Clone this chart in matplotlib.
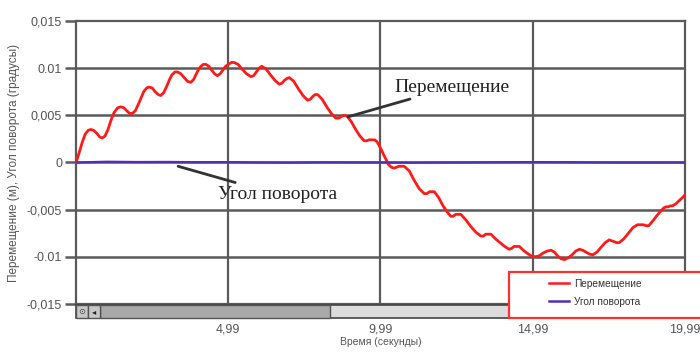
import matplotlib.pyplot as plt
from matplotlib.patches import Rectangle

# time (s) and displacement (m)
t_disp = [0.0, 0.1, 0.2, 0.3, 0.4, 0.48, 0.58, 0.68, 0.78, 0.86, 0.95, 1.05, 1.15, 1.25, 1.37,
          1.47, 1.57, 1.66, 1.76, 1.85, 1.95, 2.05, 2.14, 2.22, 2.32, 2.4, 2.5, 2.6, 2.7, 2.78,
          2.88, 2.98, 3.07, 3.15, 3.25, 3.33, 3.44, 3.55, 3.66, 3.77, 3.86, 3.95, 4.03, 4.1,
          4.18, 4.26, 4.36, 4.45, 4.55, 4.64, 4.73, 4.82, 4.91, 5.0, 5.1, 5.19, 5.32, 5.45,
          5.6, 5.74, 5.83, 5.92, 6.01, 6.1, 6.24, 6.38, 6.53, 6.67, 6.76, 6.84, 6.92, 7.0,
          7.15, 7.3, 7.45, 7.6, 7.69, 7.77, 7.85, 7.93, 8.08, 8.23, 8.38, 8.53, 8.63, 8.72,
          8.81, 8.9, 9.04, 9.18, 9.32, 9.46, 9.54, 9.62, 9.71, 9.8, 9.88, 9.95, 10.03, 10.1,
          10.18, 10.25, 10.35, 10.44, 10.52, 10.6, 10.69, 10.77, 10.94, 11.1, 11.27, 11.43,
          11.52, 11.6, 11.68, 11.76, 11.9, 12.03, 12.17, 12.3, 12.38, 12.46, 12.55, 12.63,
          12.8, 12.96, 13.13, 13.29, 13.37, 13.45, 13.54, 13.62, 13.77, 13.92, 14.07, 14.22,
          14.3, 14.38, 14.47, 14.55, 14.68, 14.8, 14.94, 15.07, 15.2, 15.33, 15.46, 15.59,
          15.7, 15.81, 15.92, 16.03, 16.16, 16.28, 16.4, 16.52, 16.63, 16.74, 16.85, 16.96,
          17.1, 17.23, 17.37, 17.5, 17.58, 17.66, 17.75, 17.83, 17.98, 18.13, 18.28, 18.43,
          18.53, 18.62, 18.71, 18.8, 18.93, 19.05, 19.18, 19.3, 19.37, 19.44, 19.51, 19.58,
          19.68, 19.78, 19.88, 19.97]
disp = [0.0, 0.0010, 0.0021, 0.0030, 0.0034, 0.0035, 0.0034, 0.0031, 0.0027, 0.0026, 0.0028,
        0.0035, 0.0045, 0.0053, 0.0058, 0.0059, 0.0058, 0.0055, 0.0052, 0.0052, 0.0055,
        0.0062, 0.0069, 0.0075, 0.0079, 0.0080, 0.0079, 0.0075, 0.0072, 0.0071, 0.0074,
        0.0081, 0.0088, 0.0093, 0.0096, 0.0096, 0.0094, 0.0090, 0.0086, 0.0085, 0.0088,
        0.0094, 0.0099, 0.0102, 0.0104, 0.0104, 0.0102, 0.0098, 0.0094, 0.0092, 0.0094,
        0.0098, 0.0102, 0.0104, 0.0106, 0.0106, 0.0104, 0.0099, 0.0094, 0.0091, 0.0092,
        0.0096, 0.0100, 0.0102, 0.0099, 0.0093, 0.0087, 0.0083, 0.0084, 0.0087, 0.0089,
        0.0090, 0.0086, 0.0078, 0.0071, 0.0066, 0.0067, 0.0070, 0.0072, 0.0072, 0.0067,
        0.0059, 0.0052, 0.0047, 0.0047, 0.0049, 0.0050, 0.0049, 0.0043, 0.0035, 0.0028,
        0.0023, 0.0023, 0.0024, 0.0024, 0.0024, 0.0022, 0.0018, 0.0013, 0.0008, 0.0003,
        -0.0002, -0.0005, -0.0006, -0.0005, -0.0004, -0.0004, -0.0004, -0.0009, -0.0019,
        -0.0028, -0.0033, -0.0033, -0.0031, -0.0031, -0.0031, -0.0037, -0.0045, -0.0052,
        -0.0057, -0.0057, -0.0055, -0.0055, -0.0055, -0.0061, -0.0068, -0.0074, -0.0078,
        -0.0078, -0.0076, -0.0076, -0.0076, -0.0081, -0.0085, -0.0089, -0.0092, -0.0091,
        -0.0089, -0.0089, -0.0089, -0.0093, -0.0096, -0.0099, -0.0100, -0.0099, -0.0096,
        -0.0094, -0.0093, -0.0095, -0.0099, -0.0102, -0.0103, -0.0101, -0.0098, -0.0094,
        -0.0092, -0.0093, -0.0095, -0.0097, -0.0098, -0.0095, -0.0090, -0.0085, -0.0082,
        -0.0083, -0.0084, -0.0085, -0.0085, -0.0081, -0.0075, -0.0069, -0.0066, -0.0066,
        -0.0066, -0.0067, -0.0067, -0.0062, -0.0057, -0.0052, -0.0048, -0.0047, -0.0047,
        -0.0046, -0.0046, -0.0044, -0.0041, -0.0038, -0.0035]

# rotation angle (near zero the whole time)
t_ang = [0, 1, 2, 3, 4, 5, 6, 7, 8, 9, 10, 11, 12, 13, 14, 15, 16, 17, 18, 19, 19.99]
angle = [0.0, 0.00008, 0.00005, 0.00006, 0.00003, 0.00004, 0.0, -0.00002, 0.00002, 0.00001,
         0.0, -0.00002, 0.0, 0.00001, 0.00003, 0.00004, 0.00003, 0.00001, 0.0, 0.0, 0.0]

x_ticks = [4.99, 9.99, 14.99, 19.99]
x_ticklabels = ['4,99', '9,99', '14,99', '19,99']
y_ticks = [-0.015, -0.01, -0.005, 0, 0.005, 0.01, 0.015]
y_ticklabels = ['-0,015', '-0.01', '-0,005', '0', '0,005', '0.01', '0,015']

fig = plt.figure(figsize=(7, 3.52), dpi=100)
ax = fig.add_axes([0.1086, 0.1364, 0.8700, 0.8040])

grid_c = '#5a5a5a'
ax.plot(t_disp, disp, color='#ff1a1a', lw=2.0, zorder=3, label='Перемещение',
        solid_joinstyle='round')
ax.plot(t_ang, angle, color='#5030b0', lw=1.6, zorder=4, label='Угол поворота')

ax.set_xlim(0, 19.99)
ax.set_ylim(-0.015, 0.015)
ax.set_xticks(x_ticks)
ax.set_xticklabels(x_ticklabels)
ax.set_yticks(y_ticks)
ax.set_yticklabels(y_ticklabels)

for y in y_ticks[1:-1]:
    ax.axhline(y, color=grid_c, lw=1.8, zorder=1)
for x in x_ticks[:-1]:
    ax.axvline(x, color=grid_c, lw=1.6, zorder=1)

for s in ax.spines.values():
    s.set_color(grid_c)
    s.set_linewidth(1.6)

ax.tick_params(axis='y', length=8, width=1.8, color=grid_c, labelcolor='#555555', labelsize=9, pad=2)
ax.tick_params(axis='x', length=0, labelcolor='#555555', labelsize=9, pad=14)
for lab in ax.get_xticklabels() + ax.get_yticklabels():
    lab.set_fontfamily('Liberation Sans')

ax.set_xlabel('Время (секунды)', fontsize=7.5, color='#555555', labelpad=1, family='Liberation Sans')
ax.set_ylabel('Перемещение (м), Угол поворота (градусы)', fontsize=8.5, color='#555555',
              labelpad=5, family='Liberation Sans')

# callout labels
ax.annotate('Перемещение', xy=(8.93, 0.00484), xytext=(10.45, 0.0080),
            fontsize=14, family='Liberation Serif', color='#222222', va='center', ha='left',
            arrowprops=dict(arrowstyle='-', color='#333333', lw=2, shrinkA=2, shrinkB=0), zorder=5)
ax.annotate('Угол поворота', xy=(3.35, -0.0004), xytext=(4.66, -0.0034),
            fontsize=14, family='Liberation Serif', color='#222222', va='center', ha='left',
            arrowprops=dict(arrowstyle='-', color='#333333', lw=2, shrinkA=2, shrinkB=0), zorder=5)

# scrollbar under the plot
W, H = 700, 352


def px_rect(x0, y0, x1, y1, **kw):
    r = Rectangle((x0 / W, 1 - y1 / H), (x1 - x0) / W, (y1 - y0) / H,
                  transform=fig.transFigure, **kw)
    fig.add_artist(r)
    return r


px_rect(76, 305, 685, 318, facecolor='#dcdcdc', edgecolor='#444444', lw=1.2)
px_rect(100, 305, 330, 318, facecolor='#a9a9a9', edgecolor='#555555', lw=1.0)
px_rect(76, 305, 88, 318, facecolor='#c8c8c8', edgecolor='#555555', lw=1.0)
px_rect(88, 305, 100, 318, facecolor='#c8c8c8', edgecolor='#555555', lw=1.0)
px_rect(680, 305, 685, 318, facecolor='#444444', edgecolor='#444444', lw=0.5)
fig.text(82 / W, 1 - 311.5 / H, '⊙', fontsize=6, ha='center', va='center', color='#444444')
fig.text(94 / W, 1 - 311.5 / H, '◂', fontsize=6, ha='center', va='center', color='#222222')

# legend box with red frame
px_rect(509, 272, 702, 318, facecolor='white', edgecolor='#ff3030', lw=1.6, zorder=10)
leg = fig.legend(loc='upper left', bbox_to_anchor=(549 / W, 1 - 279 / H), frameon=False,
                 fontsize=7.3, handlelength=2.0, borderpad=0, labelspacing=0.75,
                 handletextpad=0.5, borderaxespad=0)
leg.set_zorder(11)
for txt in leg.get_texts():
    txt.set_fontfamily('Liberation Sans')
    txt.set_color('#333333')
for ln in leg.get_lines():
    ln.set_linewidth(1.8)

fig.savefig('out.png', dpi=100)
